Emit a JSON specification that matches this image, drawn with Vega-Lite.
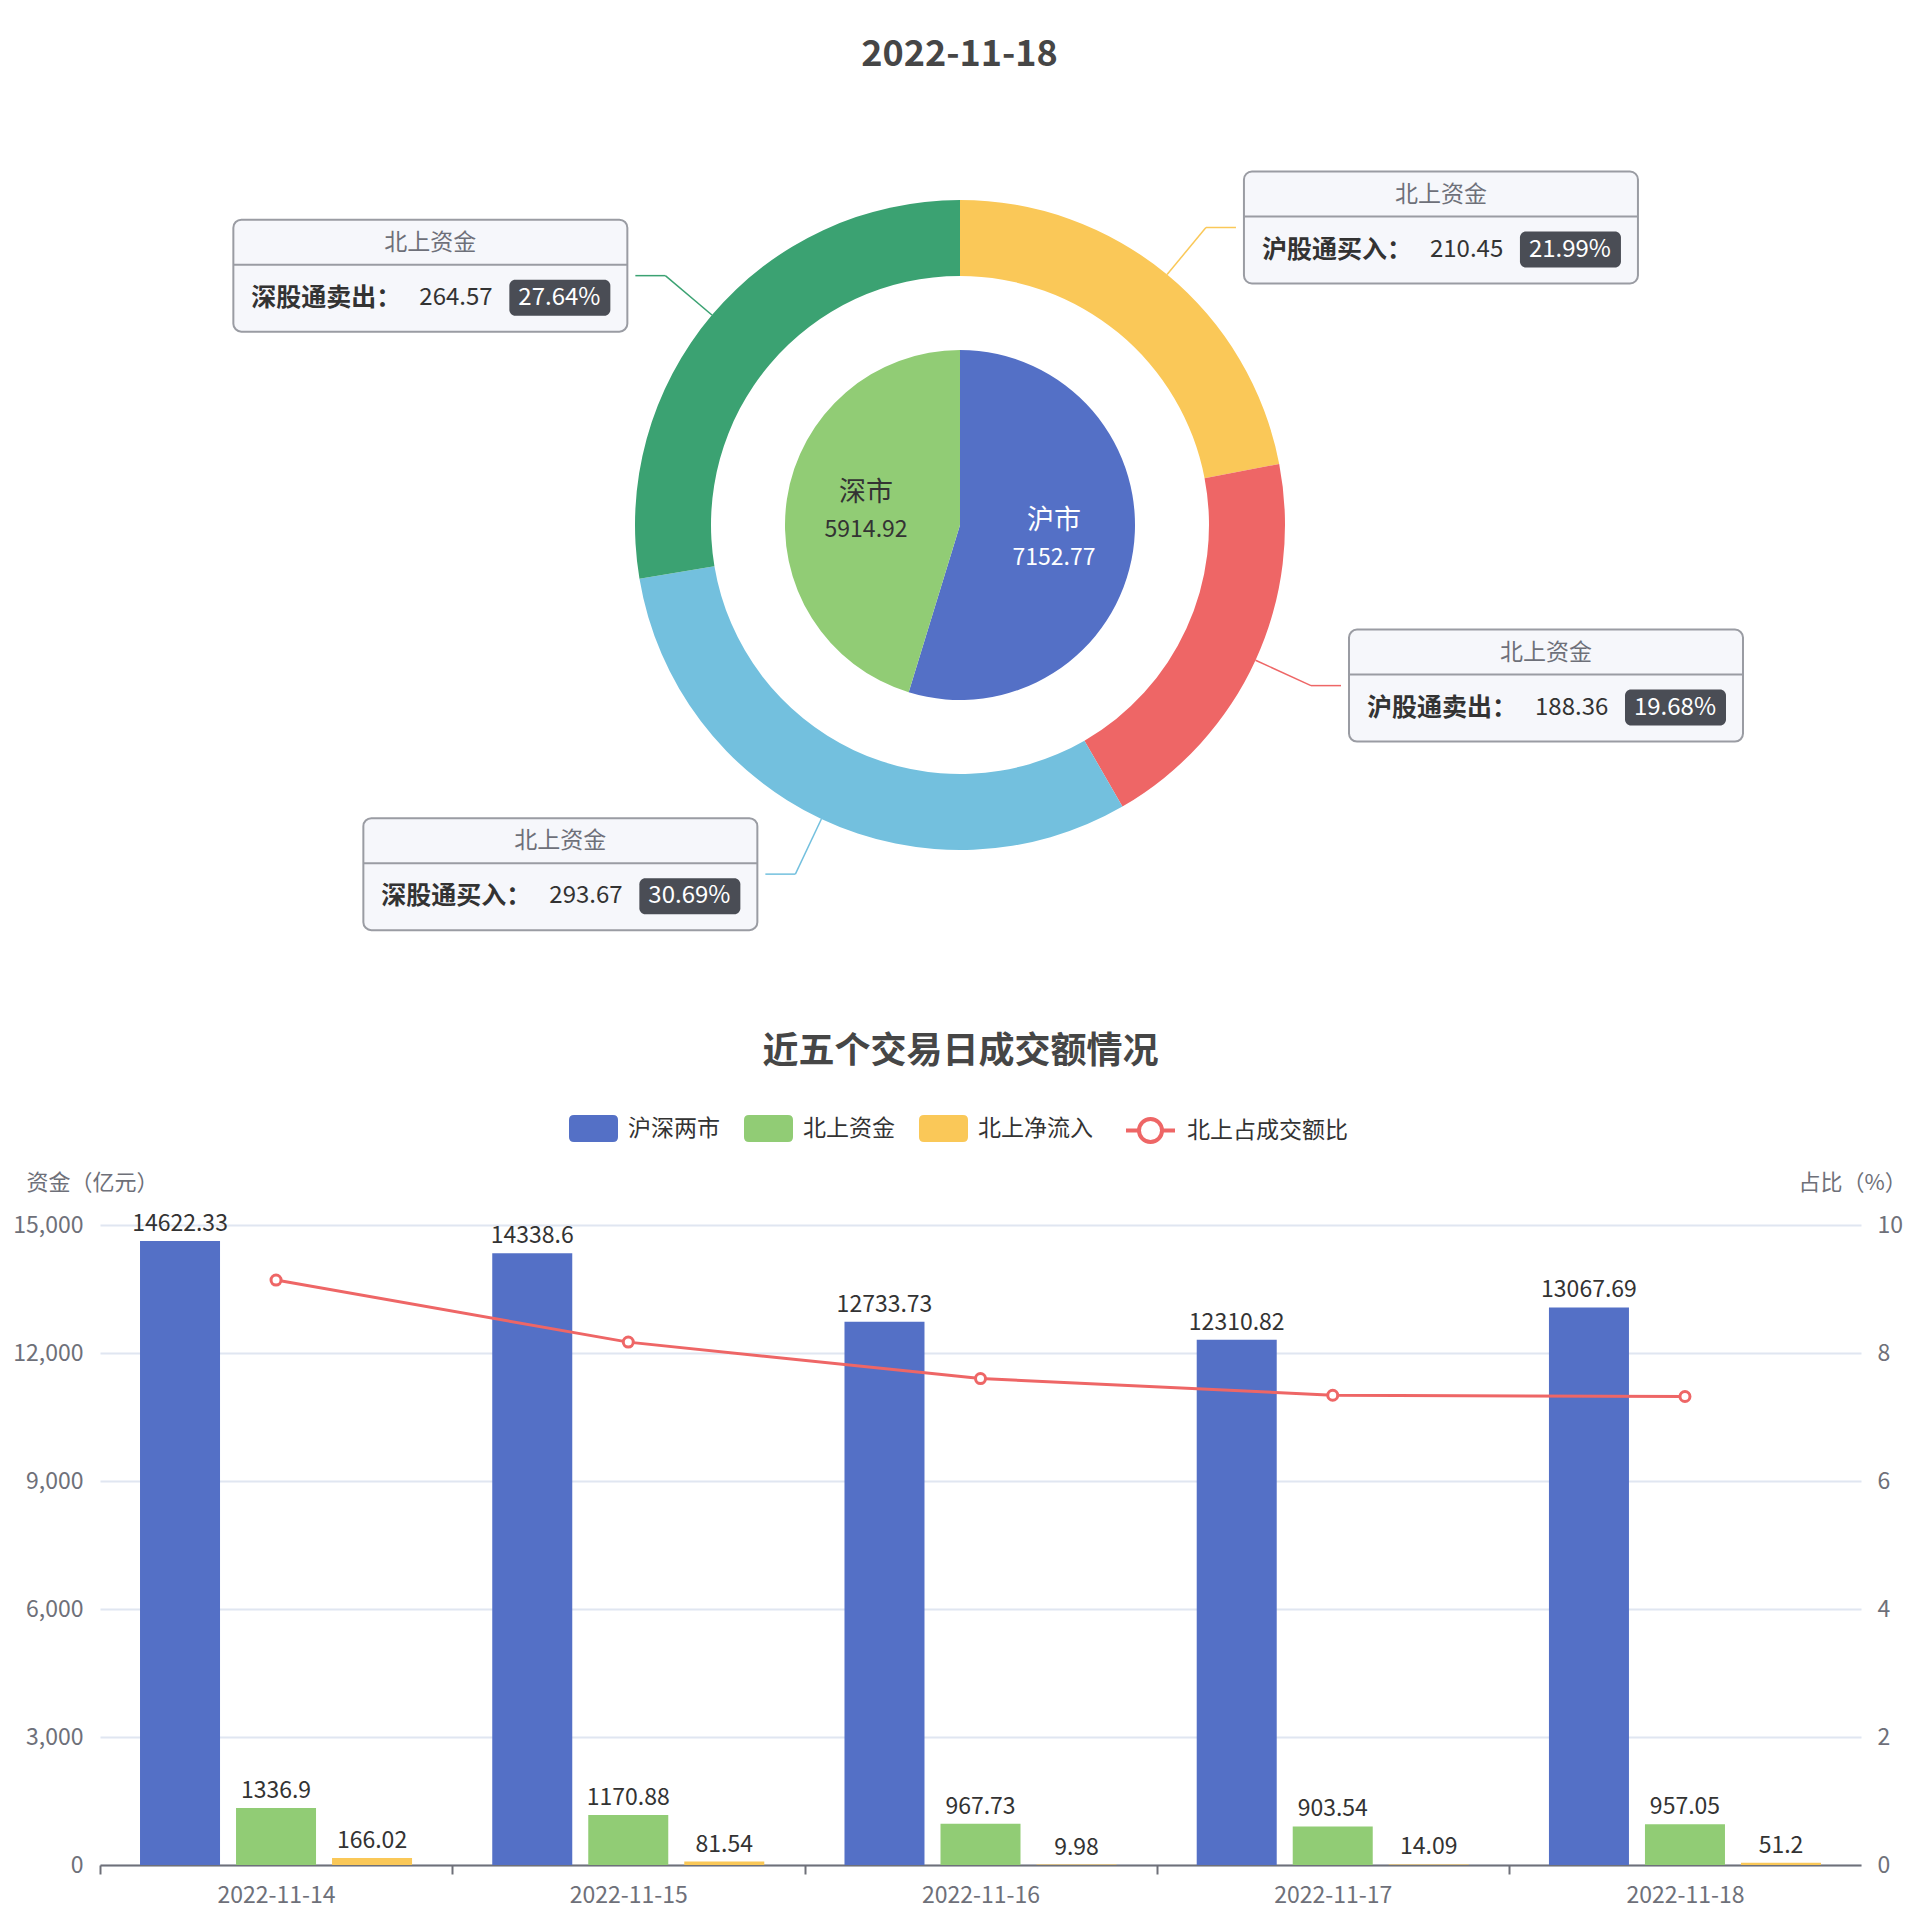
{
  "$schema": "https://vega.github.io/schema/vega-lite/v6.json",
  "background": "white",
  "padding": {"top": 37, "left": 12, "right": 0, "bottom": 12},
  "config": {"font": "Noto Sans CJK SC", "view": {"stroke": null}},
  "title": {"text": "2022-11-18", "fontSize": 36, "fontWeight": "bold", "color": "#464646", "anchor": "middle", "offset": 10},
  "datasets": {
    "north": [
      {"name": "沪股通买入", "value": 210.45, "pct": "21.99%", "idx": 1},
      {"name": "沪股通卖出", "value": 188.36, "pct": "19.68%", "idx": 2},
      {"name": "深股通买入", "value": 293.67, "pct": "30.69%", "idx": 3},
      {"name": "深股通卖出", "value": 264.57, "pct": "27.64%", "idx": 4}
    ],
    "market": [
      {"name": "沪市", "value": 7152.77, "idx": 1},
      {"name": "深市", "value": 5914.92, "idx": 2}
    ],
    "bars": [
      {"date": "2022-11-14", "series": "沪深两市", "value": 14622.33},
      {"date": "2022-11-14", "series": "北上资金", "value": 1336.9},
      {"date": "2022-11-14", "series": "北上净流入", "value": 166.02},
      {"date": "2022-11-15", "series": "沪深两市", "value": 14338.6},
      {"date": "2022-11-15", "series": "北上资金", "value": 1170.88},
      {"date": "2022-11-15", "series": "北上净流入", "value": 81.54},
      {"date": "2022-11-16", "series": "沪深两市", "value": 12733.73},
      {"date": "2022-11-16", "series": "北上资金", "value": 967.73},
      {"date": "2022-11-16", "series": "北上净流入", "value": 9.98},
      {"date": "2022-11-17", "series": "沪深两市", "value": 12310.82},
      {"date": "2022-11-17", "series": "北上资金", "value": 903.54},
      {"date": "2022-11-17", "series": "北上净流入", "value": 14.09},
      {"date": "2022-11-18", "series": "沪深两市", "value": 13067.69},
      {"date": "2022-11-18", "series": "北上资金", "value": 957.05},
      {"date": "2022-11-18", "series": "北上净流入", "value": 51.2}
    ],
    "ratio": [
      {"date": "2022-11-14", "ratio": 9.14},
      {"date": "2022-11-15", "ratio": 8.17},
      {"date": "2022-11-16", "ratio": 7.6},
      {"date": "2022-11-17", "ratio": 7.34},
      {"date": "2022-11-18", "ratio": 7.32}
    ]
  },
  "spacing": 68,
  "vconcat": [
    {
      "width": 1720,
      "height": 882,
      "resolve": {"scale": {"theta": "independent"}},
      "layer": [
        {
          "data": {"name": "north"},
          "mark": {"type": "arc", "outerRadius": 325, "innerRadius": 249},
          "encoding": {
            "theta": {"field": "value", "type": "quantitative", "stack": true},
            "order": {"field": "idx", "type": "quantitative"},
            "color": {"field": "name", "type": "nominal", "legend": null,
              "scale": {"domain": ["沪股通买入", "沪股通卖出", "深股通买入", "深股通卖出", "沪市", "深市"], "range": ["#fac858", "#ee6666", "#73c0de", "#3ba272", "#5470c6", "#91cc75"]}}
          }
        },
        {
          "data": {"name": "market"},
          "encoding": {
            "theta": {"field": "value", "type": "quantitative", "stack": true},
            "order": {"field": "idx", "type": "quantitative"}
          },
          "layer": [
            {
              "mark": {"type": "arc", "outerRadius": 175},
              "encoding": {
                "color": {"field": "name", "type": "nominal", "legend": null,
                  "scale": {"domain": ["沪股通买入", "沪股通卖出", "深股通买入", "深股通卖出", "沪市", "深市"], "range": ["#fac858", "#ee6666", "#73c0de", "#3ba272", "#5470c6", "#91cc75"]}}
              }
            },
            {
              "mark": {"type": "text", "radius": 95, "dy": -18, "fontSize": 27, "baseline": "middle", "align": "center"},
              "encoding": {
                "text": {"field": "name", "type": "nominal"},
                "color": {"condition": {"test": "datum.name === '沪市'", "value": "#ffffff"}, "value": "#333333"}
              }
            },
            {
              "mark": {"type": "text", "radius": 95, "dy": 19, "fontSize": 23, "baseline": "middle", "align": "center"},
              "encoding": {
                "text": {"field": "value", "type": "nominal"},
                "color": {"condition": {"test": "datum.name === '沪市'", "value": "#ffffff"}, "value": "#333333"}
              }
            }
          ]
        },
        {
          "data": {"name": "north"},
          "transform": [
            {"joinaggregate": [{"op": "sum", "field": "value", "as": "total"}]},
            {"window": [{"op": "sum", "field": "value", "as": "cum"}], "sort": [{"field": "idx", "order": "ascending"}], "frame": [null, 0]},
            {"calculate": "2*PI*(datum.cum - datum.value/2)/datum.total", "as": "ang"},
            {"calculate": "325*sin(datum.ang)", "as": "x0"},
            {"calculate": "-325*cos(datum.ang)", "as": "y0"},
            {"calculate": "386*sin(datum.ang)", "as": "x1"},
            {"calculate": "-386*cos(datum.ang)", "as": "y1"},
            {"calculate": "datum.x1 > 0 ? datum.x1 + 30 : datum.x1 - 30", "as": "x2"},
            {"calculate": "datum.x1 > 0 ? datum.x1 + 38 : datum.x1 - 432", "as": "bl"},
            {"calculate": "datum.bl + 394", "as": "br"},
            {"calculate": "datum.bl + 197", "as": "bc"},
            {"calculate": "datum.y1 - 56", "as": "bt"},
            {"calculate": "datum.y1 + 56", "as": "bb"},
            {"calculate": "datum.y1 - 11", "as": "bd"},
            {"calculate": "datum.name + '：'", "as": "lab"}
          ],
          "layer": [
            {
              "mark": {"type": "rule", "strokeWidth": 1.5},
              "encoding": {
                "x": {"field": "x0", "type": "quantitative", "scale": {"domain": [-860, 860], "nice": false, "zero": false}, "axis": null},
                "y": {"field": "y0", "type": "quantitative", "scale": {"domain": [-441, 441], "nice": false, "zero": false, "reverse": true}, "axis": null},
                "x2": {"field": "x1"},
                "y2": {"field": "y1"},
                "color": {"field": "name", "type": "nominal", "legend": null,
                  "scale": {"domain": ["沪股通买入", "沪股通卖出", "深股通买入", "深股通卖出", "沪市", "深市"], "range": ["#fac858", "#ee6666", "#73c0de", "#3ba272", "#5470c6", "#91cc75"]}}
              }
            },
            {
              "mark": {"type": "rule", "strokeWidth": 1.5},
              "encoding": {
                "x": {"field": "x1", "type": "quantitative", "scale": {"domain": [-860, 860], "nice": false, "zero": false}, "axis": null},
                "y": {"field": "y1", "type": "quantitative", "scale": {"domain": [-441, 441], "nice": false, "zero": false, "reverse": true}, "axis": null},
                "x2": {"field": "x2"},
                "color": {"field": "name", "type": "nominal", "legend": null,
                  "scale": {"domain": ["沪股通买入", "沪股通卖出", "深股通买入", "深股通卖出", "沪市", "深市"], "range": ["#fac858", "#ee6666", "#73c0de", "#3ba272", "#5470c6", "#91cc75"]}}
              }
            },
            {
              "mark": {"type": "rect", "fill": "#f6f7fb", "stroke": "#9a9ca3", "strokeWidth": 2, "cornerRadius": 8},
              "encoding": {
                "x": {"field": "bl", "type": "quantitative", "scale": {"domain": [-860, 860], "nice": false, "zero": false}, "axis": null},
                "x2": {"field": "br"},
                "y": {"field": "bt", "type": "quantitative", "scale": {"domain": [-441, 441], "nice": false, "zero": false, "reverse": true}, "axis": null},
                "y2": {"field": "bb"}
              }
            },
            {
              "mark": {"type": "rule", "stroke": "#9a9ca3", "strokeWidth": 2},
              "encoding": {
                "x": {"field": "bl", "type": "quantitative", "scale": {"domain": [-860, 860], "nice": false, "zero": false}, "axis": null},
                "x2": {"field": "br"},
                "y": {"field": "bd", "type": "quantitative", "scale": {"domain": [-441, 441], "nice": false, "zero": false, "reverse": true}, "axis": null}
              }
            },
            {
              "mark": {"type": "text", "fontSize": 23, "color": "#6e7079", "align": "center", "baseline": "middle", "dy": -33},
              "encoding": {
                "x": {"field": "bc", "type": "quantitative", "scale": {"domain": [-860, 860], "nice": false, "zero": false}, "axis": null},
                "y": {"field": "y1", "type": "quantitative", "scale": {"domain": [-441, 441], "nice": false, "zero": false, "reverse": true}, "axis": null},
                "text": {"value": "北上资金"}
              }
            },
            {
              "mark": {"type": "text", "fontSize": 25, "fontWeight": "bold", "color": "#333333", "align": "left", "baseline": "middle", "dx": 18, "dy": 22},
              "encoding": {
                "x": {"field": "bl", "type": "quantitative", "scale": {"domain": [-860, 860], "nice": false, "zero": false}, "axis": null},
                "y": {"field": "y1", "type": "quantitative", "scale": {"domain": [-441, 441], "nice": false, "zero": false, "reverse": true}, "axis": null},
                "text": {"field": "lab", "type": "nominal"}
              }
            },
            {
              "mark": {"type": "text", "fontSize": 24, "color": "#333333", "align": "left", "baseline": "middle", "dx": 186, "dy": 22},
              "encoding": {
                "x": {"field": "bl", "type": "quantitative", "scale": {"domain": [-860, 860], "nice": false, "zero": false}, "axis": null},
                "y": {"field": "y1", "type": "quantitative", "scale": {"domain": [-441, 441], "nice": false, "zero": false, "reverse": true}, "axis": null},
                "text": {"field": "value", "type": "nominal"}
              }
            },
            {
              "mark": {"type": "rect", "fill": "#4a4d55", "cornerRadius": 6, "xOffset": 276, "x2Offset": 377, "yOffset": 4, "y2Offset": 40},
              "encoding": {
                "x": {"field": "bl", "type": "quantitative", "scale": {"domain": [-860, 860], "nice": false, "zero": false}, "axis": null},
                "x2": {"field": "bl"},
                "y": {"field": "y1", "type": "quantitative", "scale": {"domain": [-441, 441], "nice": false, "zero": false, "reverse": true}, "axis": null},
                "y2": {"field": "y1"}
              }
            },
            {
              "mark": {"type": "text", "fontSize": 24, "color": "#ffffff", "align": "center", "baseline": "middle", "dx": 326, "dy": 22},
              "encoding": {
                "x": {"field": "bl", "type": "quantitative", "scale": {"domain": [-860, 860], "nice": false, "zero": false}, "axis": null},
                "y": {"field": "y1", "type": "quantitative", "scale": {"domain": [-441, 441], "nice": false, "zero": false, "reverse": true}, "axis": null},
                "text": {"field": "pct", "type": "nominal"}
              }
            }
          ]
        }
      ]
    },
    {
      "width": 1761,
      "height": 640,
      "title": {"text": "近五个交易日成交额情况", "fontSize": 36, "fontWeight": "bold", "color": "#464646", "anchor": "middle", "offset": 33, "dx": -20},
      "resolve": {"scale": {"y": "independent", "color": "independent"}},
      "encoding": {
        "x": {"field": "date", "type": "nominal",
          "scale": {"paddingInner": 0.2277, "paddingOuter": 0.1136},
          "axis": {"title": null, "labelAngle": 0, "labelFontSize": 23, "labelColor": "#6e7079", "labelPadding": 10,
            "domainColor": "#6e7079", "domainWidth": 2, "tickColor": "#6e7079", "tickWidth": 2, "tickSize": 9,
            "tickOffset": -176, "labelOffset": 176, "grid": false}}
      },
      "layer": [
        {
          "data": {"name": "bars"},
          "encoding": {
            "xOffset": {"field": "series", "type": "nominal", "scale": {"domain": ["沪深两市", "北上资金", "北上净流入"], "paddingInner": 0.1667, "paddingOuter": 0}},
            "y": {"field": "value", "type": "quantitative",
              "scale": {"domain": [0, 15000], "nice": false},
              "axis": {"title": "资金（亿元）", "titleAngle": 0, "titleX": -8, "titleY": -43, "titleAlign": "center", "titleBaseline": "middle",
                "titleFontSize": 22, "titleFontWeight": "normal", "titleColor": "#6e7079",
                "values": [0, 3000, 6000, 9000, 12000, 15000], "format": ",d", "labelFontSize": 23, "labelColor": "#6e7079", "labelPadding": 17,
                "domain": false, "ticks": false, "grid": true, "gridColor": "#e0e6f1", "gridWidth": 2}}
          },
          "layer": [
            {
              "mark": {"type": "bar"},
              "encoding": {
                "color": {"field": "series", "type": "nominal",
                  "scale": {"domain": ["沪深两市", "北上资金", "北上净流入"], "range": ["#5470c6", "#91cc75", "#fac858"]},
                  "legend": {"orient": "none", "legendX": 469, "legendY": -121, "direction": "horizontal", "title": null, "padding": 0,
                    "symbolType": "M-0.796,-0.551L0.796,-0.551Q1,-0.551,1,-0.347L1,0.347Q1,0.551,0.796,0.551L-0.796,0.551Q-1,0.551,-1,0.347L-1,-0.347Q-1,-0.551,-0.796,-0.551Z",
                    "symbolSize": 2401, "symbolStrokeWidth": 0, "labelFontSize": 23, "labelColor": "#333333", "labelOffset": 10, "labelLimit": 300, "columnPadding": 24}}
              }
            },
            {
              "mark": {"type": "text", "baseline": "bottom", "dy": -5, "fontSize": 23, "color": "#333333"},
              "encoding": {"text": {"field": "value", "type": "nominal"}}
            }
          ]
        },
        {
          "data": {"name": "ratio"},
          "mark": {"type": "line", "strokeWidth": 3, "point": {"filled": false, "fill": "white", "size": 100, "strokeWidth": 3}},
          "encoding": {
            "y": {"field": "ratio", "type": "quantitative",
              "scale": {"domain": [0, 10], "nice": false},
              "axis": {"orient": "right", "title": "占比（%）", "titleAngle": 0, "titleX": -9, "titleY": -43, "titleAlign": "center", "titleBaseline": "middle",
                "titleFontSize": 22, "titleFontWeight": "normal", "titleColor": "#6e7079",
                "values": [0, 2, 4, 6, 8, 10], "labelFontSize": 23, "labelColor": "#6e7079", "labelPadding": 16,
                "domain": false, "ticks": false, "grid": false}},
            "color": {"datum": "北上占成交额比", "type": "nominal",
              "scale": {"domain": ["北上占成交额比"], "range": ["#ee6666"]},
              "legend": {"orient": "none", "legendX": 1024, "legendY": -121, "direction": "horizontal", "title": null, "padding": 0,
                "symbolType": "M-1,0L-0.47,0M0.47,0L1,0M0.47,0A0.47,0.47,0,1,1,-0.47,0A0.47,0.47,0,1,1,0.47,0Z",
                "symbolSize": 2401, "symbolStrokeWidth": 4, "symbolStrokeColor": "#ee6666", "symbolFillColor": "#ffffff",
                "labelFontSize": 23, "labelColor": "#333333", "labelOffset": 10, "labelLimit": 300}}
          }
        }
      ]
    }
  ]
}
